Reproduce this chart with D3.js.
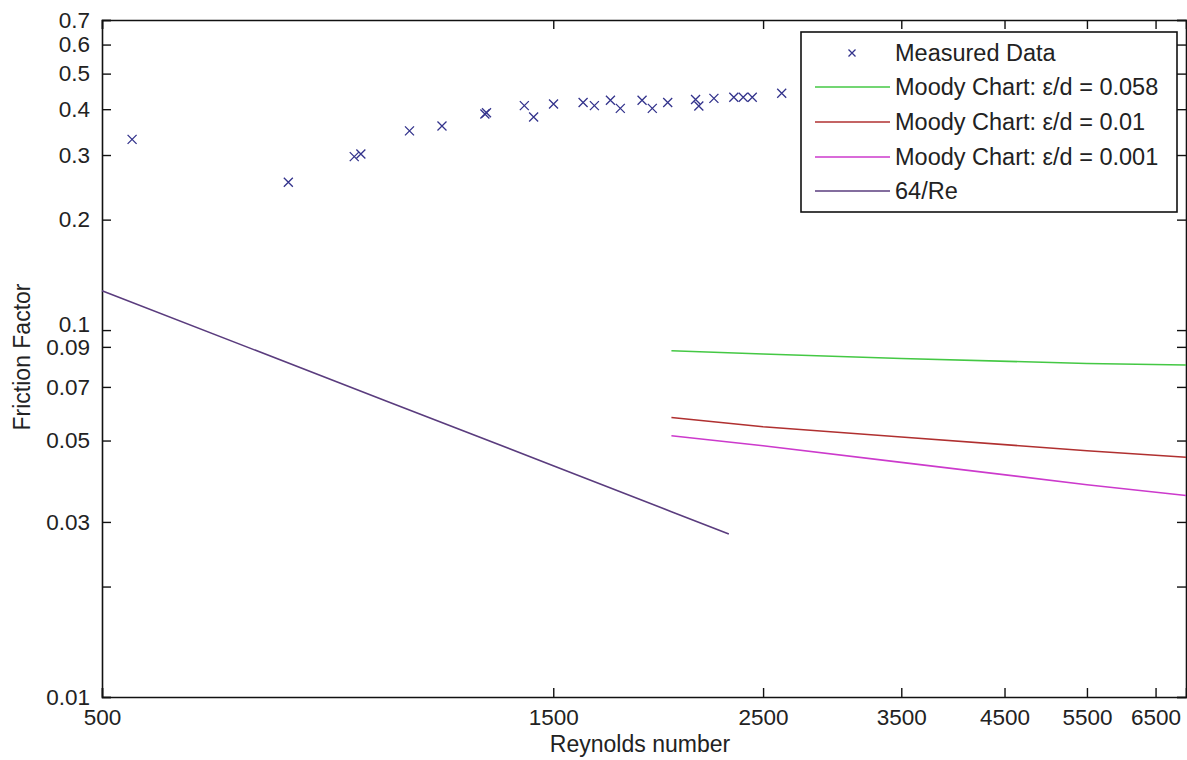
<!DOCTYPE html>
<html>
<head>
<meta charset="utf-8">
<script src="https://cdn.jsdelivr.net/npm/d3@7"></script>
<style>
  html, body { margin: 0; padding: 0; background: #ffffff; }
  svg { display: block; }
  text { font-family: "Liberation Sans", Arial, sans-serif; fill: #222; }
</style>
</head>
<body>
<svg id="chart" width="1187" height="760"></svg>
<script>
// ---- data ----
const reMeasured = [538, 787, 924, 939, 1057, 1144, 1270, 1275, 1398, 1430, 1501, 1613, 1658, 1724, 1766, 1862, 1909, 1982, 2121, 2138, 2218, 2328, 2382, 2435, 2616];
const fMeasured  = [0.331, 0.253, 0.297, 0.302, 0.349, 0.360, 0.388, 0.391, 0.409, 0.381, 0.413, 0.417, 0.409, 0.423, 0.402, 0.423, 0.402, 0.417, 0.425, 0.408, 0.428, 0.431, 0.431, 0.431, 0.442];

const reMoody = [2000, 2500, 3500, 5500, 7000];
const fMoody058 = [0.0878, 0.0861, 0.0837, 0.0811, 0.0803];
const fMoody01  = [0.0578, 0.0545, 0.0511, 0.0469, 0.0450];
const fMoody001 = [0.0515, 0.0484, 0.0436, 0.0379, 0.0354];

const reLaminar = [500, 1000, 1500, 2000, 2300];
const fLaminar  = [0.128, 0.064, 0.0427, 0.032, 0.0278];

const xTicks = [500, 1500, 2500, 3500, 4500, 5500, 6500];
const xTickLabels = ["500", "1500", "2500", "3500", "4500", "5500", "6500"];
const yTicks = [0.01, 0.02, 0.03, 0.05, 0.07, 0.09, 0.1, 0.2, 0.3, 0.4, 0.5, 0.6, 0.7];
const yTickLabels = ["0.01", "", "0.03", "0.05", "0.07", "0.09", "0.1", "0.2", "0.3", "0.4", "0.5", "0.6", "0.7"];

const seriesNames = ["Measured Data", "Moody Chart: \u03b5/d = 0.058", "Moody Chart: \u03b5/d = 0.01", "Moody Chart: \u03b5/d = 0.001", "64/Re"];
const seriesColors = ["#33338c", "#44c844", "#b03030", "#cc3acc", "#5a3c7e"];

// ---- layout ----
const svg = d3.select("#chart");
const L = 102, R = 1186, T = 20, B = 697;
const x = d3.scaleLog().domain([500, 7000]).range([L, R]);
const y = d3.scaleLog().domain([0.01, 0.7]).range([B, T]);
const fsTick = 22.5;
const fsLab = 23;
const tickLen = 9;

// axes (box)
const axB = d3.axisBottom(x).tickValues(xTicks).tickFormat((d, i) => xTickLabels[i]).tickSize(-tickLen).tickPadding(12);
const axT = d3.axisTop(x).tickValues(xTicks).tickFormat("").tickSize(-tickLen);
const axL = d3.axisLeft(y).tickValues(yTicks).tickFormat((d, i) => yTickLabels[i]).tickSize(-tickLen).tickPadding(12);
const axR = d3.axisRight(y).tickValues(yTicks).tickFormat("").tickSize(-tickLen);

function styleAxis(g) {
  g.select(".domain").attr("stroke", "#111").attr("stroke-width", 1.6);
  g.selectAll(".tick line").attr("stroke", "#111").attr("stroke-width", 1.4);
  g.selectAll(".tick text").attr("font-size", fsTick).attr("font-family", "Liberation Sans, Arial, sans-serif").attr("fill", "#222");
}
svg.append("g").attr("transform", `translate(0,${B})`).call(axB).call(styleAxis);
svg.append("g").attr("transform", `translate(0,${T})`).call(axT).call(styleAxis);
const gL = svg.append("g").attr("transform", `translate(${L},0)`).call(axL).call(styleAxis);
svg.append("g").attr("transform", `translate(${R},0)`).call(axR).call(styleAxis);
// the reference draws "0.1" slightly above and crowding "0.09"
gL.selectAll(".tick text").filter(d => d === 0.1).attr("dy", "0.05em");

// axis labels
svg.append("text").attr("x", 640).attr("y", 752).attr("text-anchor", "middle")
  .attr("font-size", fsLab).text("Reynolds number");
svg.append("text").attr("transform", "translate(30,357) rotate(-90)").attr("text-anchor", "middle")
  .attr("font-size", fsLab).text("Friction Factor");

// lines
const line = d3.line().x(d => x(d[0])).y(d => y(d[1]));
const lineSets = [
  [reMoody, fMoody058, seriesColors[1]],
  [reMoody, fMoody01, seriesColors[2]],
  [reMoody, fMoody001, seriesColors[3]],
  [reLaminar, fLaminar, seriesColors[4]]
];
lineSets.forEach(([xs, ys, c]) => {
  svg.append("path").datum(xs.map((v, i) => [v, ys[i]]))
    .attr("d", line).attr("fill", "none").attr("stroke", c).attr("stroke-width", 1.6);
});

// markers
const ms = 4.5;
function cross(g, cx, cy, s, color) {
  g.append("path").attr("d", `M${cx - s},${cy - s}L${cx + s},${cy + s}M${cx - s},${cy + s}L${cx + s},${cy - s}`)
    .attr("stroke", color).attr("stroke-width", 1.3).attr("fill", "none");
}
const mg = svg.append("g");
reMeasured.forEach((r, i) => cross(mg, x(r), y(fMeasured[i]), ms, seriesColors[0]));

// legend
const lg = svg.append("g");
lg.append("rect").attr("x", 801).attr("y", 32).attr("width", 376).attr("height", 180)
  .attr("fill", "#fff").attr("stroke", "#111").attr("stroke-width", 1.6);
const rowY = [53, 87, 122, 157, 191];
seriesNames.forEach((name, i) => {
  if (i === 0) {
    cross(lg, 852, rowY[i], 3.5, seriesColors[0]);
  } else {
    lg.append("line").attr("x1", 815).attr("x2", 890).attr("y1", rowY[i]).attr("y2", rowY[i])
      .attr("stroke", seriesColors[i]).attr("stroke-width", 1.6);
  }
  lg.append("text").attr("x", 895).attr("y", rowY[i]).attr("dy", "0.35em")
    .attr("font-size", 23.5).text(name);
});
</script>
</body>
</html>
